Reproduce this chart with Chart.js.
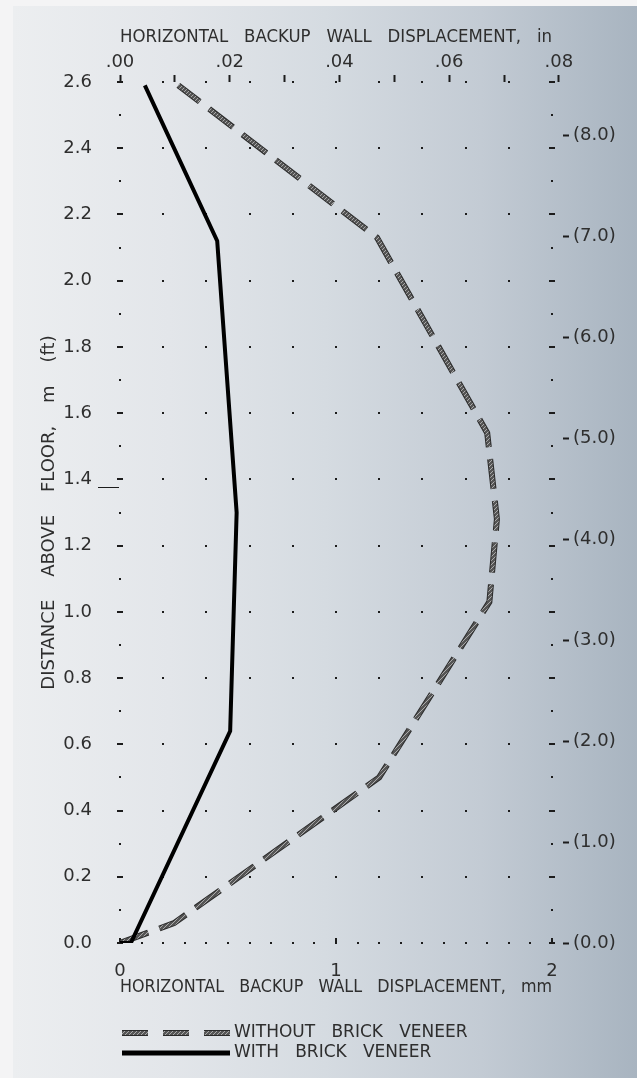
<!DOCTYPE html>
<html><head><meta charset="utf-8">
<script src="https://cdn.jsdelivr.net/npm/chart.js@4.4.1/dist/chart.umd.min.js"></script>
<style>html,body{margin:0;padding:0;background:#f4f4f5;}canvas{display:block;}</style>
</head><body>
<canvas id="c" width="637" height="1078"></canvas>
<script>
// ---- data ----
const withoutVeneerMm = [0.00, 0.25, 1.20, 1.71, 1.745, 1.70, 1.19, 0.27];
const withoutVeneerM  = [0.00, 0.06, 0.50, 1.03, 1.28, 1.54, 2.13, 2.59];
const withVeneerMm = [0.00, 0.05, 0.51, 0.54, 0.45, 0.115];
const withVeneerM  = [0.00, 0.00, 0.64, 1.30, 2.12, 2.59];
const seriesNames = ['WITHOUT   BRICK   VENEER', 'WITH   BRICK   VENEER'];

const mTickValues = [0, 0.2, 0.4, 0.6, 0.8, 1.0, 1.2, 1.4, 1.6, 1.8, 2.0, 2.2, 2.4, 2.6];
const mTickLabels = ['0.0','0.2','0.4','0.6','0.8','1.0','1.2','1.4','1.6','1.8','2.0','2.2','2.4','2.6'];
const mmTickValues = [0, 1, 2];
const mmTickLabels = ['0', '1', '2'];
const inTickValues = [0, 0.01, 0.02, 0.03, 0.04, 0.05, 0.06, 0.07, 0.08];
const inTickLabels = ['.00', '', '.02', '', '.04', '', '.06', '', '.08'];
const ftTickValues = [0, 1, 2, 3, 4, 5, 6, 7, 8];
const ftTickLabels = ['(0.0)','(1.0)','(2.0)','(3.0)','(4.0)','(5.0)','(6.0)','(7.0)','(8.0)'];

const MM_PER_IN = 25.4, M_PER_FT = 0.3048;
const X_MIN = 0, X_MAX = 2, Y_MIN = 0, Y_MAX = 2.6;

const titleTop = 'HORIZONTAL   BACKUP   WALL   DISPLACEMENT,   in';
const titleBottom = 'HORIZONTAL   BACKUP   WALL   DISPLACEMENT,   mm';
const titleLeft = 'DISTANCE    ABOVE    FLOOR,    m    (ft)';

// ---- styling ----
const FONT = "'DejaVu Sans', sans-serif";
const TEXT = '#2e2e2e';
const INK = '#1c1c1c';
const canvas = document.getElementById('c');
const ctx0 = canvas.getContext('2d');
const pc = document.createElement('canvas'); pc.width = 4; pc.height = 4;
const p = pc.getContext('2d');
p.fillStyle = '#555'; p.fillRect(0, 0, 4, 4);
p.strokeStyle = '#aaa'; p.lineWidth = 1; p.beginPath(); p.moveTo(0, 4); p.lineTo(4, 0); p.stroke();
const hatch = ctx0.createPattern(pc, 'repeat');

const toXY = (xs, ys) => xs.map((v, i) => ({x: v, y: ys[i]}));

const bgPlugin = {
  id: 'bg',
  beforeDraw(chart) {
    const {ctx, width, height} = chart;
    ctx.save();
    ctx.fillStyle = '#f4f4f5'; ctx.fillRect(0, 0, width, height);
    const g = ctx.createLinearGradient(13, 0, width, 0);
    g.addColorStop(0, '#eceef0');
    g.addColorStop(0.25, '#e3e6ea');
    g.addColorStop(0.5, '#d5dbe1');
    g.addColorStop(0.75, '#c3cbd4');
    g.addColorStop(1, '#a8b4c0');
    ctx.fillStyle = g; ctx.fillRect(13, 6, width - 13, height - 6);
    ctx.restore();
  }
};

const marksPlugin = {
  id: 'cadMarks',
  beforeDatasetsDraw(chart) {
    const {ctx} = chart;
    const xs = chart.scales.x, ys = chart.scales.y;
    ctx.save();
    ctx.fillStyle = INK;
    const axisCols = [xs.getPixelForValue(X_MIN), xs.getPixelForValue(X_MAX)];
    for (let i = 0; i <= 26; i++) {
      const py = Math.round(ys.getPixelForValue(i / 10));
      const major = i % 2 === 0;
      axisCols.forEach(px => {
        px = Math.round(px);
        if (major) ctx.fillRect(px - 3, py - 1, 6, 2);
        else ctx.fillRect(px - 1, py - 1, 2, 2);
      });
      if (major) {
        for (let j = 1; j < 10; j++) {
          const px = Math.round(xs.getPixelForValue(j * 0.2));
          ctx.fillRect(px - 1, py - 1, 2, 2);
        }
      }
    }
    const y0 = Math.round(ys.getPixelForValue(0));
    for (let j = 1; j < 20; j += 2) {
      const px = Math.round(xs.getPixelForValue(j * 0.1));
      ctx.fillRect(px - 1, y0 - 1, 2, 2);
    }
    mmTickValues.forEach(v => {
      const px = Math.round(xs.getPixelForValue(v));
      ctx.fillRect(px - 1, y0 - 5, 2, 6);
    });
    // stray underline beside the 1.4 label
    const y14 = Math.round(ys.getPixelForValue(1.4));
    ctx.fillRect(chart.chartArea.left - 22, y14 + 8, 21, 1);
    ctx.restore();
  }
};

const legendPlugin = {
  id: 'cadLegend',
  afterDraw(chart) {
    const {ctx, chartArea} = chart;
    const x0 = chartArea.left + 2, x1 = chartArea.left + 110;
    const rows = [chartArea.bottom + 90, chartArea.bottom + 110];
    ctx.save();
    ctx.lineCap = 'butt';
    ctx.setLineDash([26, 15]);
    ctx.strokeStyle = '#2a2a2a'; ctx.lineWidth = 6;
    ctx.beginPath(); ctx.moveTo(x0, rows[0]); ctx.lineTo(x1, rows[0]); ctx.stroke();
    ctx.strokeStyle = hatch; ctx.lineWidth = 4;
    ctx.beginPath(); ctx.moveTo(x0, rows[0]); ctx.lineTo(x1, rows[0]); ctx.stroke();
    ctx.setLineDash([]);
    ctx.strokeStyle = '#000'; ctx.lineWidth = 5;
    ctx.beginPath(); ctx.moveTo(x0, rows[1]); ctx.lineTo(x1, rows[1]); ctx.stroke();
    ctx.fillStyle = TEXT;
    ctx.font = '17px ' + FONT;
    ctx.textBaseline = 'middle'; ctx.textAlign = 'left';
    ctx.fillText(seriesNames[0], x1 + 4, rows[0]);
    ctx.fillText(seriesNames[1], x1 + 4, rows[1]);
    ctx.restore();
  }
};

const tickFont = {family: FONT, size: 18};
const titleFont = {family: FONT, size: 17};

new Chart(canvas, {
  type: 'line',
  data: {
    datasets: [
      {label: seriesNames[0] + ' outline', data: toXY(withoutVeneerMm, withoutVeneerM),
       borderColor: '#2a2a2a', borderWidth: 6, borderDash: [30, 12], borderCapStyle: 'butt',
       pointRadius: 0, tension: 0, fill: false, order: 3, xAxisID: 'x', yAxisID: 'y'},
      {label: seriesNames[0], data: toXY(withoutVeneerMm, withoutVeneerM),
       borderColor: hatch, borderWidth: 4, borderDash: [30, 12], borderCapStyle: 'butt',
       pointRadius: 0, tension: 0, fill: false, order: 2, xAxisID: 'x', yAxisID: 'y'},
      {label: seriesNames[1], data: toXY(withVeneerMm, withVeneerM),
       borderColor: '#000', borderWidth: 4, borderJoinStyle: 'miter',
       pointRadius: 0, tension: 0, fill: false, order: 1, xAxisID: 'x', yAxisID: 'y'}
    ]
  },
  options: {
    responsive: false,
    animation: false,
    devicePixelRatio: 1,
    layout: {padding: 0},
    plugins: {legend: {display: false}, tooltip: {enabled: false}},
    scales: {
      x: {
        type: 'linear', position: 'bottom', min: X_MIN, max: X_MAX,
        afterBuildTicks: s => { s.ticks = mmTickValues.map(v => ({value: v})); },
        afterFit: s => { s.height = 135; },
        ticks: {autoSkip: false, maxRotation: 0, padding: 10, color: TEXT, font: tickFont,
                callback: (v, i) => mmTickLabels[i]},
        grid: {display: false}, border: {display: false},
        title: {display: true, text: titleBottom, color: TEXT, font: titleFont, padding: {top: 0, bottom: 80}}
      },
      x2: {
        type: 'linear', position: 'top', min: X_MIN / MM_PER_IN, max: X_MAX / MM_PER_IN,
        afterBuildTicks: s => { s.ticks = inTickValues.map(v => ({value: v})); },
        afterFit: s => { s.height = 82; },
        ticks: {autoSkip: false, maxRotation: 0, padding: -2, color: TEXT, font: tickFont,
                callback: (v, i) => inTickLabels[i]},
        grid: {display: true, drawOnChartArea: false, drawTicks: true, tickLength: 11,
               tickWidth: 2, tickColor: INK, tickBorderDash: [0, 4, 7, 20]},
        border: {display: false},
        title: {display: true, text: titleTop, color: TEXT, font: titleFont, padding: {top: 27, bottom: 0}}
      },
      y: {
        type: 'linear', position: 'left', min: Y_MIN, max: Y_MAX,
        afterBuildTicks: s => { s.ticks = mTickValues.map(v => ({value: v})); },
        afterFit: s => { s.width = 120; },
        ticks: {autoSkip: false, padding: 20, color: TEXT, font: tickFont,
                callback: (v, i) => mTickLabels[i]},
        grid: {display: false}, border: {display: false},
        title: {display: true, text: titleLeft, color: TEXT, font: {family: FONT, size: 18}, padding: {top: 39, bottom: 0}}
      },
      y2: {
        type: 'linear', position: 'right', min: Y_MIN / M_PER_FT, max: Y_MAX / M_PER_FT,
        afterBuildTicks: s => { s.ticks = ftTickValues.map(v => ({value: v})); },
        afterFit: s => { s.width = 85; },
        ticks: {autoSkip: false, padding: 3, color: TEXT, font: tickFont,
                callback: (v, i) => ftTickLabels[i]},
        grid: {display: true, drawOnChartArea: false, drawTicks: true, tickLength: 18,
               tickWidth: 2, tickColor: INK, tickBorderDash: [0, 11, 6, 100]},
        border: {display: false}
      }
    }
  },
  plugins: [bgPlugin, marksPlugin, legendPlugin]
});
</script>
</body></html>
